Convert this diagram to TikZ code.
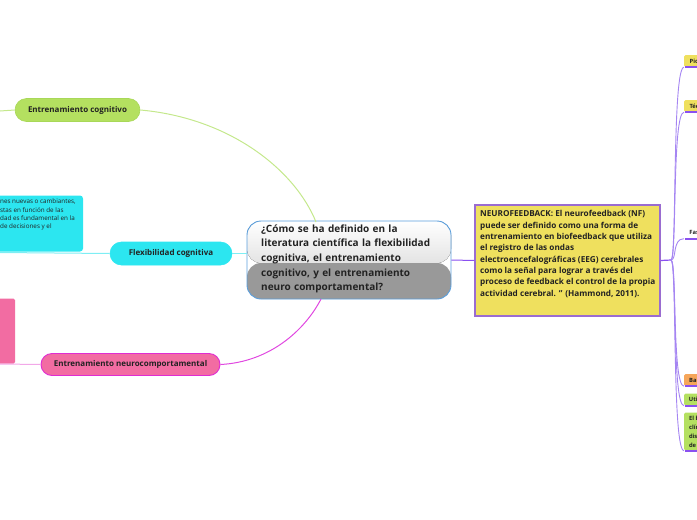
\documentclass[tikz,border=0pt]{standalone}
\usepackage{fontspec}
\setmainfont{Open Sans}
\definecolor{qborder}{HTML}{5A9EDC}
\definecolor{yfill}{HTML}{EFE05E}
\definecolor{yborder}{HTML}{9A6CD0}
\definecolor{purp}{HTML}{8A50F0}
\definecolor{purpl}{HTML}{A585F2}
\definecolor{gfill}{HTML}{B4E060}
\definecolor{gborder}{HTML}{A8D858}
\definecolor{gline}{HTML}{C4E88C}
\definecolor{cfill}{HTML}{2CE6F0}
\definecolor{cline}{HTML}{7EEEF4}
\definecolor{pfill}{HTML}{F26CA2}
\definecolor{pborder}{HTML}{E02CD2}
\definecolor{pline}{HTML}{E048E0}
\definecolor{plinel}{HTML}{F2A8E8}
\definecolor{ofill}{HTML}{F6A65A}
\definecolor{txt}{HTML}{222222}
\begin{document}
\begin{tikzpicture}[x=1pt,y=-1pt,
  qbox/.style={draw=qborder, line width=0.9pt, rounded corners=14pt,
    minimum width=204pt, minimum height=78pt, inner sep=0pt,
    path picture={
      \fill[top color=white, bottom color=black!20]
        (path picture bounding box.north west) rectangle ([yshift=-42pt]path picture bounding box.north east);
      \fill[black!40]
        ([yshift=-42pt]path picture bounding box.north west) rectangle (path picture bounding box.south east);}},
  qtext/.style={text=txt, align=left, text width=180pt, inner sep=0pt, anchor=north west,
    font=\bfseries\fontsize{10}{14.6}\selectfont},
  ybox/.style={draw=yborder, fill=yfill, line width=1.2pt, minimum width=185pt, minimum height=111pt, inner sep=0pt},
  ytext/.style={text=txt, align=left, inner sep=0pt, anchor=north west,
    font=\bfseries\fontsize{8.2}{11.3}\selectfont},
  pill/.style={rounded corners=11.5pt, minimum height=23pt, inner sep=0pt, line width=0.6pt,
    font=\bfseries\fontsize{8}{9}\selectfont, text=txt},
  ritem/.style={anchor=west, minimum height=12pt, minimum width=20pt, inner xsep=3pt, inner ysep=0pt,
    text=txt, align=left, font=\bfseries\fontsize{5.8}{9}\selectfont, rounded corners=1.5pt},
  ltext/.style={text=txt, align=left, inner sep=0pt, anchor=north west,
    font=\fontsize{6.3}{8.3}\selectfont},
  branch/.style={draw=purpl, line width=0.9pt},
  uline/.style={draw=purp, line width=1.8pt},
  ]
\useasboundingbox (0,0) rectangle (697,520);
\clip (0,0) rectangle (697,520);

% central node
\node[qbox] (q) at (349,260) {};
\node[qtext] (qt) at (261,224.5) {¿Cómo se ha definido en la\\literatura científica la flexibilidad\\cognitiva, el entrenamiento\\cognitivo, y el entrenamiento\\neuro comportamental?};

% right yellow node
\node[ybox] (y) at (567.5,260.5) {};
\node[ytext] (yt) at (480,210.5) {NEUROFEEDBACK: El neurofeedback (NF)\\puede ser definido como una forma de\\entrenamiento en biofeedback que utiliza\\el registro de las ondas\\electroencefalográficas (EEG) cerebrales\\como la señal para lograr a través del\\proceso de feedback el control de la propia\\actividad cerebral. '' (Hammond, 2011).};
\draw[purp, line width=1pt] (q.east) -- (y.west);

% right side items
\coordinate (j) at (671,260);
\draw[purp, line width=1.2pt] (y.east) -- (j);
\node[ritem, fill=yfill] (r1) at (684,61) {Pio};
\node[ritem, fill=yfill] (r2) at (684,106) {Téc};
\node[ritem] (r3) at (684,232.5) {Fas};
\node[ritem, fill=ofill] (r4) at (684,380) {Bar};
\node[ritem, fill=gfill] (r5) at (684,399.5) {Util};
\node[ritem, fill=gfill, minimum height=38pt] (r6) at (684,431.5) {El b\\clín\\dis\\de};
\foreach \r in {r1,r2,r3,r4,r5,r6}{
  \draw[branch] (j) .. controls (677,260) and ([xshift=-12pt]\r.south west) .. (\r.south west);
  \draw[uline] ([xshift=1pt]\r.south west) -- ([xshift=20pt]\r.south west);
}

% left: Entrenamiento cognitivo
\node[pill, fill=gfill, draw=gborder, minimum width=125pt] (g) at (77.5,110) {Entrenamiento cognitivo};
\coordinate (g0) at (0,111);
\draw[gline, line width=1pt] (g.west) -- (g0);
\coordinate (qtop) at (316,222);
\draw[gline, line width=1pt] (g.east) .. controls (230,118) and (295,170) .. (qtop);

% left: Flexibilidad cognitiva
\node[fill=cfill, rounded corners=3pt, minimum width=93pt, minimum height=56pt, inner sep=0pt] (cb) at (36.5,223.5) {};
\node[ltext] (cbt) at (0,199) {nes nuevas o cambiantes,\\stas en función de las\\dad es fundamental en la\\de decisiones y el};
\node[pill, fill=cfill, draw=cfill, minimum width=122pt] (c) at (171,253.5) {Flexibilidad cognitiva};
\coordinate (c0) at (0,252.5);
\draw[cline, line width=1pt] (c.west) -- (c0);
\draw[cline, line width=1pt] (c.east) -- (q.west |- c.east);

% left: Entrenamiento neurocomportamental
\node[fill=pfill, minimum width=30pt, minimum height=65pt, inner sep=0pt, rounded corners=1.5pt] (pb) at (0,331) {};
\node[pill, fill=pfill, draw=pborder, line width=0.9pt, minimum width=179pt, minimum height=22pt, rounded corners=11pt] (p) at (130.5,364.5) {Entrenamiento neurocomportamental};
\coordinate (p0) at (0,364);
\draw[plinel, line width=1pt] (p.west) -- (p0);
\coordinate (qbot) at (321,299);
\draw[pline, line width=1pt] (p.east) .. controls (270,362) and (305,330) .. (qbot);
\end{tikzpicture}
\end{document}
